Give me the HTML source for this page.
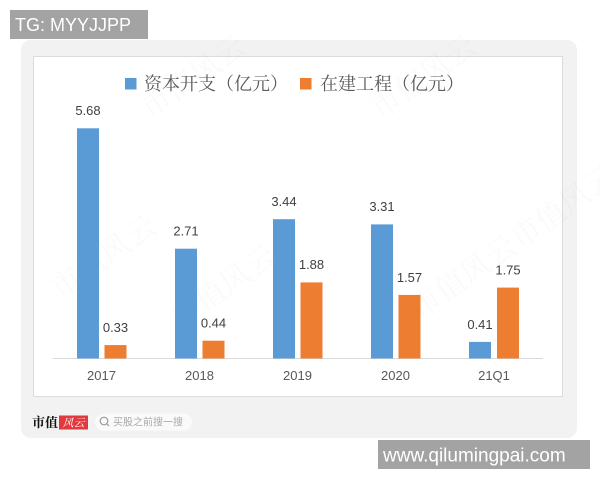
<!DOCTYPE html>
<html>
<head>
<meta charset="utf-8">
<style>
  html,body{margin:0;padding:0;background:#fff;}
  body{width:600px;height:480px;overflow:hidden;position:relative;}
  svg{position:absolute;left:0;top:0;}
</style>
</head>
<body>
<svg width="600" height="480" viewBox="0 0 600 480" xmlns="http://www.w3.org/2000/svg">
  <!-- card -->
  <rect x="21" y="40" width="556" height="398" rx="10" fill="#f2f2f2"/>
  <!-- panel -->
  <rect x="33.5" y="56.5" width="529" height="340" fill="#ffffff" stroke="#dcdcdc" stroke-width="1"/>

  <!-- faint watermarks -->
  <g font-family="'Noto Serif CJK SC',serif" font-size="30" fill="#000" opacity="0.022">
    <text transform="translate(150,120) rotate(-35)">市值风云</text>
    <text transform="translate(380,120) rotate(-35)">市值风云</text>
    <text transform="translate(180,330) rotate(-35)">市值风云</text>
    <text transform="translate(420,320) rotate(-35)">市值风云</text>
    <text transform="translate(60,300) rotate(-35)">市值风云</text>
    <text transform="translate(520,250) rotate(-35)">市值风云</text>
  </g>

  <!-- legend -->
  <rect x="125" y="78" width="11.5" height="11.5" fill="#5b9bd5"/>
  <text x="144" y="90" font-family="'Noto Serif CJK SC',serif" font-size="18" fill="#595959">资本开支（亿元）</text>
  <rect x="300" y="78" width="11.5" height="11.5" fill="#ed7d31"/>
  <text x="320" y="90" font-family="'Noto Serif CJK SC',serif" font-size="18" fill="#595959">在建工程（亿元）</text>

  <!-- axis line -->
  <line x1="53" y1="358.5" x2="543" y2="358.5" stroke="#d9d9d9" stroke-width="1"/>

  <!-- bars -->
  <g fill="#5b9bd5">
    <rect x="77" y="128.3" width="22" height="230.2"/>
    <rect x="175" y="248.7" width="22" height="109.8"/>
    <rect x="273" y="219.2" width="22" height="139.3"/>
    <rect x="371" y="224.4" width="22" height="134.1"/>
    <rect x="469" y="341.9" width="22" height="16.6"/>
  </g>
  <g fill="#ed7d31">
    <rect x="104.5" y="345.1" width="22" height="13.4"/>
    <rect x="202.5" y="340.7" width="22" height="17.8"/>
    <rect x="300.5" y="282.4" width="22" height="76.1"/>
    <rect x="398.5" y="294.9" width="22" height="63.6"/>
    <rect x="497" y="287.6" width="22" height="70.9"/>
  </g>

  <!-- data labels -->
  <g font-family="'Liberation Sans',sans-serif" font-size="13" fill="#404040" text-anchor="middle">
    <text x="88" y="115">5.68</text>
    <text x="186" y="235.5">2.71</text>
    <text x="284" y="206">3.44</text>
    <text x="382" y="211">3.31</text>
    <text x="480" y="329">0.41</text>
    <text x="115.5" y="332">0.33</text>
    <text x="213.5" y="327.5">0.44</text>
    <text x="311.5" y="269">1.88</text>
    <text x="409.5" y="282">1.57</text>
    <text x="508" y="274.5">1.75</text>
  </g>

  <!-- x labels -->
  <g font-family="'Liberation Sans',sans-serif" font-size="13" fill="#595959" text-anchor="middle">
    <text x="101.5" y="380">2017</text>
    <text x="199.5" y="380">2018</text>
    <text x="297.5" y="380">2019</text>
    <text x="395.5" y="380">2020</text>
    <text x="494" y="380">21Q1</text>
  </g>

  <!-- footer -->
  <text x="32" y="427" font-family="'Noto Serif CJK SC',serif" font-size="13" font-weight="bold" fill="#111">市值</text>
  <rect x="59" y="415.5" width="29" height="14" fill="#e03a3e"/>
  <text x="73.5" y="426.5" font-family="'Noto Serif CJK SC',serif" font-size="11" font-style="italic" fill="#fff" text-anchor="middle">风云</text>
  <rect x="95" y="413.5" width="97" height="17" rx="8.5" fill="#fafafa"/>
  <circle cx="104" cy="421" r="3.8" fill="none" stroke="#999" stroke-width="1.2"/>
  <line x1="106.7" y1="423.7" x2="109" y2="426" stroke="#999" stroke-width="1.2"/>
  <text x="113" y="425.5" font-family="'Liberation Sans','Noto Sans CJK SC',sans-serif" font-size="10" fill="#aaa">买股之前搜一搜</text>

  <!-- TG label -->
  <rect x="10" y="10" width="138" height="29" fill="#a3a3a3"/>
  <text x="15" y="31" font-family="'Liberation Sans',sans-serif" font-size="18" fill="#fff">TG: MYYJJPP</text>

  <!-- site label -->
  <rect x="378" y="440" width="212" height="29" fill="#a3a3a3"/>
  <text x="383" y="461.5" font-family="'Liberation Sans',sans-serif" font-size="19" fill="#fff">www.qilumingpai.com</text>
</svg>
</body>
</html>
